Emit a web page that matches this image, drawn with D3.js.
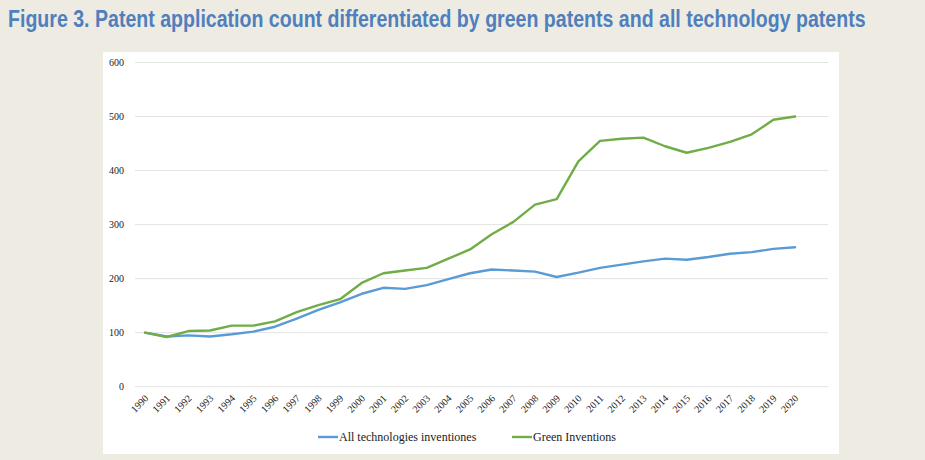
<!DOCTYPE html>
<html><head><meta charset="utf-8">
<script src="https://cdn.jsdelivr.net/npm/d3@7"></script>
<style>
html,body{margin:0;padding:0;background:#EEEBE2;}
svg{display:block;}
</style></head>
<body>
<svg id="chart" width="925" height="460"></svg>
<script>
const years = ["1990","1991","1992","1993","1994","1995","1996","1997","1998","1999","2000","2001","2002","2003","2004","2005","2006","2007","2008","2009","2010","2011","2012","2013","2014","2015","2016","2017","2018","2019","2020"];
const allTech = [100,93,95,93,97,102,111,126,142,156,172,183,181,188,199,210,217,215,213,203,211,220,226,232,237,235,240,246,249,255,258];
const green = [100,92,103,104,113,113,121,138,151,162,192,210,215,220,237,254,282,305,337,347,417,455,459,461,445,433,442,453,467,494,500];
const yTicks = [0,100,200,300,400,500,600];
const seriesNames = ["All technologies inventiones","Green Inventions"];
const seriesColors = ["#5B9BD5","#70AD47"];
const titleText = "Figure 3. Patent application count differentiated by green patents and all technology patents";

const svg = d3.select("#chart");
svg.append("rect").attr("x",0).attr("y",0).attr("width",925).attr("height",460).attr("fill","#EEEBE2");

const title = svg.append("text").attr("x",0).attr("y",0)
  .attr("font-family","'Liberation Sans Narrow','Arial Narrow','Liberation Sans',Arial,sans-serif")
  .attr("font-weight","bold").attr("font-size",23).attr("fill","#4F7FBD")
  .text(titleText);
const tw = title.node().getComputedTextLength();
const sx = Math.min(1, 858 / tw);
title.attr("transform",`translate(8,27) scale(${sx},1)`);

svg.append("rect").attr("x",103).attr("y",52).attr("width",736).attr("height",402).attr("fill","#ffffff");

const left = 134.2, bandW = 21.667;
const x = d3.scaleBand().domain(years).range([left, left + bandW*years.length]);
const y = d3.scaleLinear().domain([0,600]).range([386.7,62.5]);
const gridRight = 828;

const g = svg.append("g");
g.selectAll("line.grid").data(yTicks).enter().append("line")
  .attr("x1",135).attr("x2",gridRight)
  .attr("y1",d=>y(d)).attr("y2",d=>y(d))
  .attr("stroke","#e3e3e3").attr("stroke-width",1);

// y axis labels
const yAxis = d3.axisLeft(y).tickValues(yTicks).tickSize(0).tickPadding(0).tickFormat(d3.format("d"));
const ya = svg.append("g").attr("transform","translate(124,0)").call(yAxis);
ya.select(".domain").remove();
ya.selectAll("text").attr("font-family","'Liberation Serif','Times New Roman',serif").attr("font-size",10).attr("fill","#222");

// x axis labels
const xAxis = d3.axisBottom(x).tickSize(0).tickPadding(0);
const xa = svg.append("g").call(xAxis);
xa.select(".domain").remove();
xa.selectAll(".tick").attr("transform",d=>`translate(${x(d)+x.bandwidth()/2+4},399)`);
xa.selectAll("text").attr("font-family","'Liberation Serif','Times New Roman',serif").attr("font-size",10).attr("fill","#222")
  .attr("text-anchor","end").attr("dy",0).attr("y",0).attr("transform","rotate(-45)");

const line = d3.line().x((d,i)=>x(years[i])+x.bandwidth()/2).y(d=>y(d));
[allTech, green].forEach((s,k)=>{
  svg.append("path").datum(s).attr("d",line).attr("fill","none")
    .attr("stroke",seriesColors[k]).attr("stroke-width",2.4).attr("stroke-linejoin","round").attr("stroke-linecap","round");
});

// legend
const legX = [318, 512];
seriesNames.forEach((n,k)=>{
  svg.append("line").attr("x1",legX[k]).attr("x2",legX[k]+20).attr("y1",437).attr("y2",437)
    .attr("stroke",seriesColors[k]).attr("stroke-width",2.4);
  svg.append("text").attr("x",legX[k]+21).attr("y",441)
    .attr("font-family","'Liberation Serif','Times New Roman',serif").attr("font-size",12).attr("fill","#222").text(n);
});
</script>
</body></html>
